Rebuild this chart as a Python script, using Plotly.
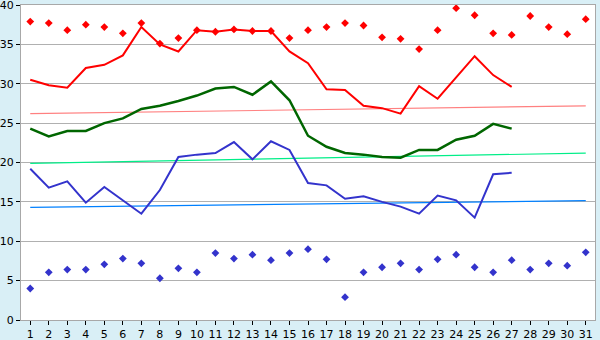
import plotly.graph_objects as go

days = list(range(1, 32))
max_pts = [37.9, 37.7, 36.8, 37.5, 37.2, 36.4, 37.7, 35.1, 35.8, 36.8,
           36.6, 36.9, 36.7, 36.7, 35.8, 36.8, 37.2, 37.7, 37.4, 35.9,
           35.7, 34.4, 36.8, 39.6, 38.7, 36.4, 36.2, 38.6, 37.2, 36.3, 38.2]
min_pts = [4.0, 6.05, 6.4, 6.4, 7.07, 7.8, 7.2, 5.3, 6.56, 6.05,
           8.5, 7.8, 8.3, 7.6, 8.5, 9.0, 7.7, 2.9, 6.05, 6.7,
           7.2, 6.4, 7.7, 8.3, 6.7, 6.05, 7.6, 6.4, 7.2, 6.9, 8.6]
line_days = list(range(1, 28))
max_line = [30.5, 29.8, 29.5, 32.0, 32.4, 33.6, 37.2, 35.0, 34.1, 36.8,
            36.6, 36.9, 36.7, 36.7, 34.1, 32.6, 29.3, 29.2, 27.2, 26.9,
            26.2, 29.7, 28.1, 30.8, 33.5, 31.1, 29.6]
mean_line = [24.3, 23.3, 24.0, 24.0, 25.0, 25.6, 26.8, 27.2, 27.8, 28.5,
             29.4, 29.6, 28.6, 30.3, 27.9, 23.4, 22.0, 21.2, 21.0, 20.7,
             20.6, 21.6, 21.6, 22.9, 23.4, 24.9, 24.3]
min_line = [19.2, 16.8, 17.6, 14.9, 16.9, 15.2, 13.5, 16.5, 20.7, 21.0,
            21.2, 22.6, 20.4, 22.7, 21.6, 17.4, 17.1, 15.4, 15.7, 15.0,
            14.4, 13.5, 15.8, 15.2, 13.0, 18.5, 18.7]
trend_days = [1, 31]
max_trend = [26.2, 27.2]
mean_trend = [19.9, 21.2]
min_trend = [14.3, 15.15]
y_ticks = [0, 5, 10, 15, 20, 25, 30, 35, 40]

fig = go.Figure()
fig.add_trace(go.Scatter(x=trend_days, y=max_trend, mode="lines",
                         line=dict(color="#ff8080", width=1.2)))
fig.add_trace(go.Scatter(x=trend_days, y=mean_trend, mode="lines",
                         line=dict(color="#00ee88", width=1.2)))
fig.add_trace(go.Scatter(x=trend_days, y=min_trend, mode="lines",
                         line=dict(color="#0080ff", width=1.2)))
fig.add_trace(go.Scatter(x=line_days, y=max_line, mode="lines",
                         line=dict(color="#ff0000", width=2)))
fig.add_trace(go.Scatter(x=line_days, y=mean_line, mode="lines",
                         line=dict(color="#006600", width=2.5)))
fig.add_trace(go.Scatter(x=line_days, y=min_line, mode="lines",
                         line=dict(color="#3333cc", width=2)))
fig.add_trace(go.Scatter(x=days, y=max_pts, mode="markers",
                         marker=dict(symbol="diamond", size=6, color="#ff0000")))
fig.add_trace(go.Scatter(x=days, y=min_pts, mode="markers",
                         marker=dict(symbol="diamond", size=6, color="#3333cc")))

fig.update_layout(
    width=600, height=340,
    margin=dict(l=21, r=5, t=5, b=20, autoexpand=False),
    paper_bgcolor="#d9eff6",
    plot_bgcolor="#ffffff",
    showlegend=False,
    font=dict(family="DejaVu Sans", size=11, color="#000000"),
)
fig.update_xaxes(range=[0.5, 31.5], tickvals=days, ticks="outside", ticklen=4,
                 tickcolor="#000000", showgrid=False, zeroline=False,
                 showline=True, linecolor="#a8a8a8", linewidth=1, mirror=True,
                 tickfont=dict(size=11), ticklabeloverflow="allow",
                 automargin=False)
fig.update_yaxes(range=[0, 40], tickvals=y_ticks, ticks="outside", ticklen=4,
                 tickcolor="#000000", showgrid=True, gridcolor="#b0b0b0",
                 zeroline=False, showline=True, linecolor="#a8a8a8", linewidth=1,
                 mirror=True, tickfont=dict(size=11), ticklabeloverflow="allow",
                 ticklabelstandoff=0, automargin=False)

fig.write_html("out.html")
